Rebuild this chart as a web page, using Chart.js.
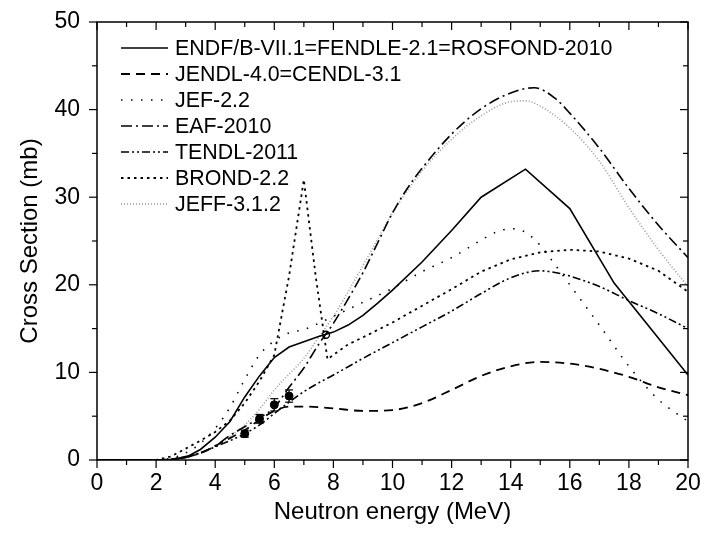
<!DOCTYPE html>
<html>
<head>
<meta charset="utf-8">
<script src="https://cdn.jsdelivr.net/npm/chart.js@4.4.1/dist/chart.umd.min.js"></script>
<style>
  html, body { margin: 0; padding: 0; background: #fff; }
  canvas { display: block; }
</style>
</head>
<body>
<canvas id="xsChart" width="705" height="533"></canvas>
<script>
// evaluated data libraries, in legend order
const libraryNames = [
    'ENDF/B-VII.1=FENDLE-2.1=ROSFOND-2010',
    'JENDL-4.0=CENDL-3.1',
    'JEF-2.2',
    'EAF-2010',
    'TENDL-2011',
    'BROND-2.2',
    'JEFF-3.1.2'
];

// neutron energy (MeV) / cross section (mb) for each library
const endfE = [0, 2, 2.5, 3, 3.5, 4, 4.5, 5, 5.5, 6, 6.5, 7, 7.5, 8, 8.5, 9, 9.5, 10, 11, 12, 13, 14.5, 16, 17.5, 20];
const endfXS = [0, 0, 0.05, 0.3, 1.2, 2.6, 4.4, 7.2, 9.6, 11.7, 12.9, 13.5, 14.1, 14.6, 15.4, 16.5, 17.9, 19.4, 22.6, 26.2, 30.0, 33.2, 28.7, 20.2, 9.7];

const jendlE = [0, 2, 2.5, 3, 3.5, 4, 4.5, 5, 5.5, 6, 6.5, 7, 8, 9, 10, 11, 12, 13, 14, 15, 16, 17, 18, 19, 20];
const jendlXS = [0, 0, 0.1, 0.3, 0.8, 1.6, 2.5, 3.4, 4.6, 5.6, 6.1, 6.1, 5.9, 5.6, 5.7, 6.5, 8.0, 9.6, 10.7, 11.2, 11.0, 10.4, 9.5, 8.3, 7.4];

const jefE = [0, 2, 2.5, 3, 3.5, 4, 4.5, 5, 5.5, 6, 6.5, 7, 7.5, 8, 9, 10, 11, 12, 13, 13.5, 14, 14.5, 15, 15.5, 16, 17, 18, 19, 20];
const jefXS = [0, 0, 0.2, 0.8, 1.9, 3.6, 6.0, 9.2, 12.0, 13.6, 14.5, 14.9, 15.6, 16.4, 18.0, 19.6, 21.5, 23.1, 25.1, 26.0, 26.4, 26.0, 24.5, 22.3, 20.0, 15.4, 10.7, 6.9, 4.4];

const eafE = [0, 2, 2.5, 3, 3.5, 4, 4.5, 5, 5.5, 6, 6.5, 7, 7.5, 8, 8.5, 9, 9.5, 10, 10.5, 11, 12, 13, 14, 14.8, 15.5, 16, 17, 18, 19, 20];
const eafXS = [0, 0, 0.05, 0.3, 0.8, 1.6, 2.8, 3.8, 4.8, 6.0, 8.3, 10.5, 13.2, 15.6, 18.4, 21.4, 24.8, 28.2, 31.0, 33.3, 37.2, 40.1, 41.9, 42.5, 41.3, 39.6, 35.6, 31.0, 26.8, 23.1];

const tendlE = [0, 2, 2.5, 3, 3.5, 4, 4.5, 5, 5.5, 6, 6.5, 7, 7.5, 8, 9, 10, 11, 12, 13, 14, 15, 15.5, 16, 17, 18, 19, 20];
const tendlXS = [0, 0, 0.1, 0.4, 0.8, 1.5, 2.2, 3.0, 4.0, 5.3, 6.6, 7.8, 8.8, 9.7, 11.6, 13.4, 15.2, 17.0, 19.0, 20.8, 21.6, 21.4, 21.0, 19.8, 18.2, 16.7, 15.0];

const brondE = [0, 2, 2.5, 3, 3.5, 4, 4.5, 5, 5.5, 6, 6.5, 7, 7.4, 7.8, 8, 8.5, 9, 10, 11, 12, 13, 14, 15, 16, 17, 18, 19, 20];
const brondXS = [0, 0, 0.4, 1.3, 2.2, 3.2, 4.5, 6.5, 9.0, 12.0, 21.0, 32.0, 21.0, 11.5, 12.0, 13.2, 14.0, 15.7, 17.6, 19.5, 21.5, 22.9, 23.7, 24.0, 23.8, 23.0, 21.6, 19.2];

const jeffE = [0, 2, 2.5, 3, 3.5, 4, 4.5, 5, 5.5, 6, 6.5, 7, 7.5, 8, 8.5, 9, 9.5, 10, 11, 12, 13, 14, 14.5, 15, 16, 17, 18, 19, 20];
const jeffXS = [0, 0, 0.05, 0.3, 0.8, 1.6, 2.7, 4.0, 5.8, 8.0, 9.8, 11.6, 14.0, 16.4, 19.2, 22.2, 25.2, 28.2, 33.0, 36.6, 39.3, 40.9, 41.0, 40.4, 37.9, 34.1, 28.8, 24.0, 19.8];

// measured points with uncertainties
const expE = [5.0, 5.5, 6.0, 6.5];
const expXS = [3.0, 4.7, 6.3, 7.3];
const expErr = [0.4, 0.5, 0.7, 0.7];
const openE = [7.75];
const openXS = [14.3];

const energyTicks = [0, 2, 4, 6, 8, 10, 12, 14, 16, 18, 20];
const xsTicks = [0, 10, 20, 30, 40, 50];

const FONT = "'Liberation Sans', Arial, sans-serif";

function toPoints(xs, ys) {
    return xs.map((e, i) => ({ x: e, y: ys[i] }));
}

const lineStyles = [
    { color: '#000', width: 1.6, dash: [], smooth: false },
    { color: '#000', width: 1.8, dash: [9, 6], smooth: true },
    { color: '#000', width: 1.6, dash: [1.5, 8.5], smooth: true },
    { color: '#000', width: 1.6, dash: [11, 4, 2, 4], smooth: true },
    { color: '#000', width: 1.6, dash: [8, 3, 2, 3, 2, 3], smooth: true },
    { color: '#000', width: 1.8, dash: [2.5, 4], smooth: false },
    { color: '#999', width: 1.6, dash: [1, 2], smooth: true }
];
const seriesE = [endfE, jendlE, jefE, eafE, tendlE, brondE, jeffE];
const seriesXS = [endfXS, jendlXS, jefXS, eafXS, tendlXS, brondXS, jeffXS];

const datasets = libraryNames.map((name, i) => ({
    label: name,
    data: toPoints(seriesE[i], seriesXS[i]),
    borderColor: lineStyles[i].color,
    borderWidth: lineStyles[i].width,
    borderDash: lineStyles[i].dash,
    cubicInterpolationMode: lineStyles[i].smooth ? 'monotone' : 'default',
    tension: 0,
    pointRadius: 0,
    fill: false
}));

datasets.push({
    label: 'exp',
    data: toPoints(expE, expXS),
    showLine: false,
    pointRadius: 4,
    pointBackgroundColor: '#000',
    pointBorderColor: '#000'
});
datasets.push({
    label: 'exp2',
    data: toPoints(openE, openXS),
    showLine: false,
    pointRadius: 3.5,
    pointBorderWidth: 1.4,
    pointBackgroundColor: '#fff',
    pointBorderColor: '#000'
});

// frame, tick marks, error bars and the in-plot legend
const decorations = {
    id: 'decorations',
    afterDatasetsDraw(chart) {
        const { ctx, chartArea: a, scales: { x, y } } = chart;
        const seg = (x1, y1, x2, y2) => {
            ctx.beginPath();
            ctx.moveTo(x1, y1);
            ctx.lineTo(x2, y2);
            ctx.stroke();
        };
        ctx.save();
        ctx.strokeStyle = '#000';
        ctx.setLineDash([]);

        // error bars
        ctx.lineWidth = 1.2;
        expE.forEach((e, i) => {
            const px = x.getPixelForValue(e);
            const top = y.getPixelForValue(expXS[i] + expErr[i]);
            const bot = y.getPixelForValue(expXS[i] - expErr[i]);
            seg(px, top, px, bot);
            seg(px - 4, top, px + 4, top);
            seg(px - 4, bot, px + 4, bot);
        });

        // frame
        ctx.lineWidth = 1.5;
        ctx.strokeRect(a.left, a.top, a.right - a.left, a.bottom - a.top);

        // ticks: outward on bottom/left, inward on top/right
        ctx.lineWidth = 1.2;
        for (let v = 0; v <= 20; v++) {
            const px = x.getPixelForValue(v);
            const len = v % 2 === 0 ? 8 : 5;
            seg(px, a.bottom, px, a.bottom + len);
            seg(px, a.top, px, a.top + len);
        }
        for (let v = 0; v <= 50; v += 5) {
            const py = y.getPixelForValue(v);
            const len = v % 10 === 0 ? 8 : 5;
            seg(a.left, py, a.left - len, py);
            seg(a.right, py, a.right - len, py);
        }

        // legend
        ctx.font = '21.4px ' + FONT;
        ctx.fillStyle = '#000';
        ctx.textBaseline = 'middle';
        libraryNames.forEach((name, i) => {
            const ly = a.top + 26 + i * 26;
            ctx.strokeStyle = lineStyles[i].color;
            ctx.lineWidth = lineStyles[i].width;
            ctx.setLineDash(lineStyles[i].dash);
            seg(a.left + 24, ly, a.left + 71, ly);
            ctx.fillText(name, a.left + 78, ly + 1);
        });
        ctx.restore();
    }
};

// invisible grid ticks keep labels away from the axes without adding layout padding
const hiddenGrid = len => ({
    display: true,
    drawOnChartArea: false,
    drawTicks: true,
    tickLength: len,
    tickColor: 'rgba(0,0,0,0)'
});

new Chart(document.getElementById('xsChart'), {
    type: 'line',
    data: { datasets },
    options: {
        responsive: false,
        animation: false,
        layout: { padding: { top: 22, right: 17, left: 0, bottom: 0 } },
        plugins: {
            legend: { display: false },
            tooltip: { enabled: false }
        },
        scales: {
            x: {
                type: 'linear',
                min: 0,
                max: 20,
                afterBuildTicks: axis => { axis.ticks = energyTicks.map(v => ({ value: v })); },
                afterFit: axis => { axis.height = 73; },
                grid: hiddenGrid(10),
                border: { display: false },
                ticks: { color: '#000', font: { family: FONT, size: 23 }, padding: 0, maxRotation: 0 },
                title: {
                    display: true,
                    text: 'Neutron energy (MeV)',
                    color: '#000',
                    font: { family: FONT, size: 24 },
                    padding: { top: 0, bottom: 6 }
                }
            },
            y: {
                type: 'linear',
                min: 0,
                max: 50,
                afterBuildTicks: axis => { axis.ticks = xsTicks.map(v => ({ value: v })); },
                afterFit: axis => { axis.width = 97; },
                grid: hiddenGrid(17),
                border: { display: false },
                ticks: { color: '#000', font: { family: FONT, size: 23 }, padding: 0 },
                title: {
                    display: true,
                    text: 'Cross Section (mb)',
                    color: '#000',
                    font: { family: FONT, size: 24 },
                    padding: { top: 16, bottom: 0 }
                }
            }
        }
    },
    plugins: [decorations]
});
</script>
</body>
</html>
